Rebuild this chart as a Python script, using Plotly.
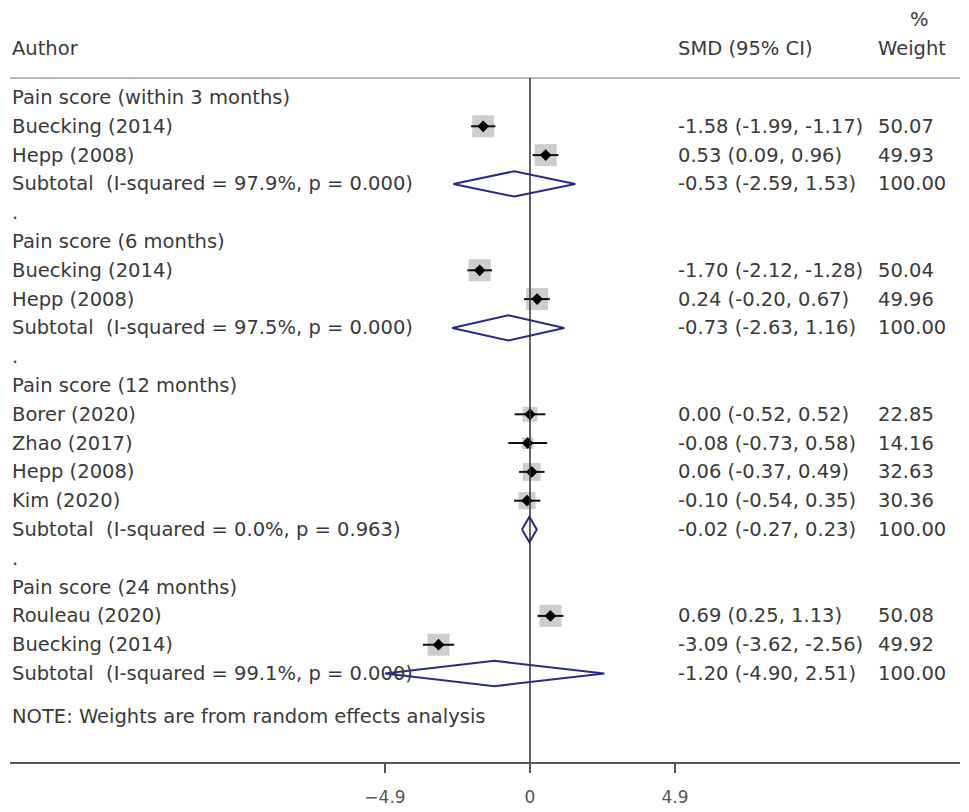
import math
import plotly.graph_objects as go

# ---------------- data ----------------
group_titles = [
    "Pain score (within 3 months)",
    "Pain score (6 months)",
    "Pain score (12 months)",
    "Pain score (24 months)",
]
study_group = [0, 0, 1, 1, 2, 2, 2, 2, 3, 3]
study_names = [
    "Buecking (2014)", "Hepp (2008)",
    "Buecking (2014)", "Hepp (2008)",
    "Borer (2020)", "Zhao (2017)", "Hepp (2008)", "Kim (2020)",
    "Rouleau (2020)", "Buecking (2014)",
]
study_smd = [-1.58, 0.53, -1.70, 0.24, 0.00, -0.08, 0.06, -0.10, 0.69, -3.09]
study_lo = [-1.99, 0.09, -2.12, -0.20, -0.52, -0.73, -0.37, -0.54, 0.25, -3.62]
study_hi = [-1.17, 0.96, -1.28, 0.67, 0.52, 0.58, 0.49, 0.35, 1.13, -2.56]
study_weight = [50.07, 49.93, 50.04, 49.96, 22.85, 14.16, 32.63, 30.36, 50.08, 49.92]

sub_labels = [
    "Subtotal\u00a0 (I-squared = 97.9%, p = 0.000)",
    "Subtotal\u00a0 (I-squared = 97.5%, p = 0.000)",
    "Subtotal\u00a0 (I-squared = 0.0%, p = 0.963)",
    "Subtotal\u00a0 (I-squared = 99.1%, p = 0.000)",
]
sub_smd = [-0.53, -0.73, -0.02, -1.20]
sub_lo = [-2.59, -2.63, -0.27, -4.90]
sub_hi = [1.53, 1.16, 0.23, 2.51]
sub_weight = [100.00, 100.00, 100.00, 100.00]

tick_vals = [-4.9, 0, 4.9]
tick_text = ["\u22124.9", "0", "4.9"]

note_text = "NOTE: Weights are from random effects analysis"
header_author = "Author"
header_smd = "SMD (95% CI)"
header_pct = "%"
header_weight = "Weight"

# ---------------- layout constants ----------------
W, H = 969, 812
ZERO_PX, PX_PER_UNIT = 530, 29.6
LEFT_PX, RIGHT_PX = 10, 960
ROW0_PX, ROW_PX = 97.5, 28.8
TOP_PX, AXIS_PX = 78, 762
FONT = "DejaVu Sans, Verdana, sans-serif"
TXT = "#3a3a3a"
FS = 19.5
NAVY = "#2a2a88"

x_range = [(LEFT_PX - ZERO_PX) / PX_PER_UNIT, (RIGHT_PX - ZERO_PX) / PX_PER_UNIT]
y_range = [(AXIS_PX - ROW0_PX) / ROW_PX, (TOP_PX - ROW0_PX) / ROW_PX]

# ---------------- build rows ----------------
left_rows = []   # (row, text)
right_rows = []  # (row, smd text, weight text)
st_rows, sub_rows = [], []
row = 0
for g, title in enumerate(group_titles):
    left_rows.append((row, title))
    row += 1
    for i, gi in enumerate(study_group):
        if gi != g:
            continue
        left_rows.append((row, study_names[i]))
        right_rows.append((row, f"{study_smd[i]:.2f} ({study_lo[i]:.2f}, {study_hi[i]:.2f})",
                           f"{study_weight[i]:.2f}"))
        st_rows.append((i, row))
        row += 1
    left_rows.append((row, sub_labels[g]))
    right_rows.append((row, f"{sub_smd[g]:.2f} ({sub_lo[g]:.2f}, {sub_hi[g]:.2f})",
                       f"{sub_weight[g]:.2f}"))
    sub_rows.append((g, row))
    row += 1
    if g < len(group_titles) - 1:
        left_rows.append((row, "."))
        row += 1
note_row = row + 0.5

fig = go.Figure()

# boxes
maxw = max(study_weight)
fig.add_trace(go.Scatter(
    x=[study_smd[i] for i, r in st_rows], y=[r for i, r in st_rows],
    mode="markers",
    marker=dict(symbol="square", color="#b8b8b8",
                size=[22 * math.sqrt(study_weight[i] / maxw) for i, r in st_rows],
                line=dict(width=0)),
    hoverinfo="skip", showlegend=False))

# CI lines
cx, cy = [], []
for i, r in st_rows:
    cx += [study_lo[i], study_hi[i], None]
    cy += [r, r, None]
fig.add_trace(go.Scatter(x=cx, y=cy, mode="lines", line=dict(color="#111", width=2),
                         hoverinfo="skip", showlegend=False))

# points
fig.add_trace(go.Scatter(
    x=[study_smd[i] for i, r in st_rows], y=[r for i, r in st_rows],
    mode="markers", marker=dict(symbol="diamond", color="#000", size=9),
    hoverinfo="skip", showlegend=False))

# diamonds
hh = 0.44
dx, dy = [], []
for g, r in sub_rows:
    dx += [sub_lo[g], sub_smd[g], sub_hi[g], sub_smd[g], sub_lo[g], None]
    dy += [r, r - hh, r, r + hh, r, None]
fig.add_trace(go.Scatter(x=dx, y=dy, mode="lines", line=dict(color=NAVY, width=2),
                         hoverinfo="skip", showlegend=False))

ann = []
def txt(x, y, s, xref="paper", yref="y", size=FS, color=TXT):
    ann.append(dict(x=x, y=y, xref=xref, yref=yref, text=s, showarrow=False,
                    xanchor="left", yanchor="middle",
                    font=dict(family=FONT, size=size, color=color)))

for r, s in left_rows:
    txt(LEFT_PX / W, r, s)
for r, s, w in right_rows:
    txt(676 / W, r, s)
    txt(876 / W, r, w)
txt(LEFT_PX / W, note_row, note_text)

# headers (paper coords)
txt(LEFT_PX / W, 1 - 48 / H, header_author, yref="paper")
txt(676 / W, 1 - 48 / H, header_smd, yref="paper")
txt(876 / W, 1 - 48 / H, header_weight, yref="paper")
txt(908 / W, 1 - 20 / H, header_pct, yref="paper")

fig.update_layout(
    width=W, height=H,
    margin=dict(l=0, r=0, t=0, b=0),
    paper_bgcolor="white", plot_bgcolor="white",
    annotations=ann,
    xaxis=dict(domain=[LEFT_PX / W, RIGHT_PX / W], range=x_range,
               showgrid=False, zeroline=False, showline=True,
               linecolor="#555", linewidth=1.5,
               ticks="outside", ticklen=9, tickwidth=1.5, tickcolor="#555",
               tickvals=tick_vals, ticktext=tick_text,
               tickfont=dict(family=FONT, size=17, color="#555"),
               ticklabelstandoff=10, fixedrange=True),
    yaxis=dict(domain=[(H - AXIS_PX) / H, (H - TOP_PX) / H], range=y_range,
               showgrid=False, zeroline=False, showline=False,
               showticklabels=False, ticks="", fixedrange=True),
    shapes=[
        dict(type="line", xref="x domain", yref="y domain", x0=0, x1=1, y0=1, y1=1,
             line=dict(color="#a0a0a0", width=1.5)),
        dict(type="line", xref="x", yref="y domain", x0=0, x1=0, y0=0, y1=1,
             line=dict(color="#333", width=1.5), layer="above"),
    ],
)

fig.write_html("out.html", config={"displayModeBar": False},
               post_script="document.body.style.margin='0';document.body.style.padding='0';")
